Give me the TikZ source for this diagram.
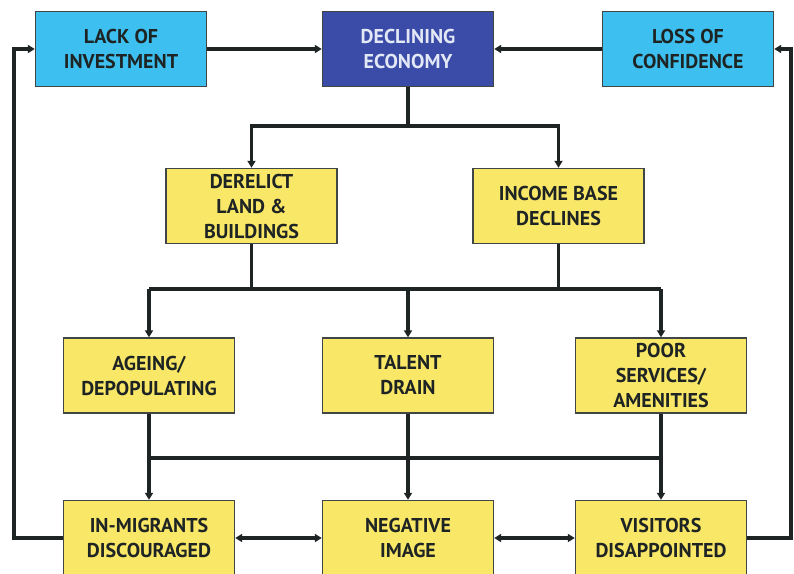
\documentclass[tikz,border=0pt]{standalone}
\usepackage{fontspec}
\setmainfont{PT Sans}
\usetikzlibrary{arrows.meta}
\definecolor{lblue}{HTML}{3DC0EF}
\definecolor{dblue}{HTML}{3A4BA8}
\definecolor{ybox}{HTML}{F9E768}
\definecolor{ink}{HTML}{1E2424}
\definecolor{ltext}{HTML}{E2E8F6}
\begin{document}
\begin{tikzpicture}[x=1pt,y=-1pt,
  box/.style={draw=ink!85, line width=1.4pt, minimum width=171pt, minimum height=75pt,
    align=center, inner sep=2pt, text=ink,
    font=\fontsize{20}{25}\selectfont\bfseries},
  bluebox/.style={box, fill=lblue},
  darkbox/.style={box, fill=dblue, text=ltext},
  yellowbox/.style={box, fill=ybox},
  conn/.style={draw=ink, line width=3.1pt},
  arr/.style={conn, -{Triangle[length=7pt,width=8pt]}},
  darr/.style={conn, {Triangle[length=7pt,width=8pt]}-{Triangle[length=7pt,width=8pt]}}
]
\useasboundingbox (0,0) rectangle (794,573);
\clip (0,0) rectangle (794,573);
\fill[white] (0,0) rectangle (794,573);

\node[bluebox] (lack) at (121,49) {LACK OF\\INVESTMENT};
\node[darkbox] (econ) at (408,49) {DECLINING\\ECONOMY};
\node[bluebox] (loss) at (688,49) {LOSS OF\\CONFIDENCE};
\node[yellowbox] (derelict) at (251.5,206) {DERELICT\\LAND \&\\BUILDINGS};
\node[yellowbox] (income) at (558.5,206) {INCOME BASE\\DECLINES};
\node[yellowbox] (ageing) at (149,375.5) {AGEING/\\DEPOPULATING};
\node[yellowbox] (talent) at (408,375.5) {TALENT\\DRAIN};
\node[yellowbox] (poor) at (661,375.5) {POOR\\SERVICES/\\AMENITIES};
\node[yellowbox] (inmig) at (149,538) {IN-MIGRANTS\\DISCOURAGED};
\node[yellowbox] (neg) at (408,538) {NEGATIVE\\IMAGE};
\node[yellowbox] (vis) at (661,538) {VISITORS\\DISAPPOINTED};

\coordinate (j1) at (408,126);
\coordinate (j2l) at (251.5,289);
\coordinate (j2r) at (558.5,289);
\coordinate (j2a) at (149,289);
\coordinate (j2t) at (408,289);
\coordinate (j2p) at (661,289);
\coordinate (j3a) at (149,458);
\coordinate (j3t) at (408,458);
\coordinate (j3p) at (661,458);
\coordinate (fl) at (14,538);
\coordinate (fr) at (791,538);

\draw[arr] (lack) -- (econ);
\draw[arr] (loss) -- (econ);
\draw[conn] (econ.south) -- (j1);
\draw[arr] (j1) -| (derelict.north);
\draw[arr] (j1) -| (income.north);

\draw[conn] (derelict.south) -- (j2l);
\draw[conn] (income.south) -- (j2r);
\draw[conn] (j2a) -- (j2p);
\draw[arr] (j2a) -- (ageing.north);
\draw[arr] (j2t) -- (talent.north);
\draw[arr] (j2p) -- (poor.north);

\draw[conn] (ageing.south) -- (j3a);
\draw[conn] (talent.south) -- (j3t);
\draw[conn] (poor.south) -- (j3p);
\draw[conn] (j3a) -- (j3p);
\draw[arr] (j3a) -- (inmig.north);
\draw[arr] (j3t) -- (neg.north);
\draw[arr] (j3p) -- (vis.north);

\draw[darr] (inmig) -- (neg);
\draw[darr] (neg) -- (vis);

\draw[arr] (inmig.west) -- (fl) |- (lack.west);
\draw[arr] (vis.east) -- (fr) |- (loss.east);
\end{tikzpicture}
\end{document}
